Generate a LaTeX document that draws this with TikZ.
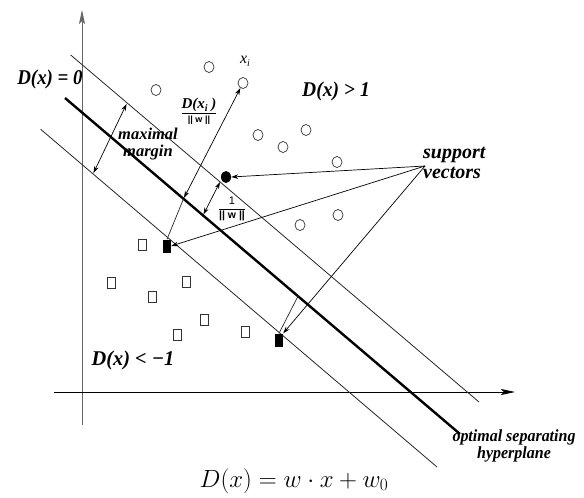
\documentclass[tikz,border=0pt]{standalone}
\usepackage[no-math]{fontspec}
\setmainfont{Liberation Serif}
\setsansfont{Liberation Sans}
\usetikzlibrary{arrows.meta,shapes.geometric}
\begin{document}
\begin{tikzpicture}[x=1pt,y=-1pt,
  thinline/.style={line width=0.8pt, draw=black!85},
  hyper/.style={line width=2.4pt},
  axisarr/.style={-{Stealth[length=14pt,width=6pt,inset=3pt]}},
  arr/.style={-{Stealth[length=7pt,width=4.5pt]}, line width=0.7pt},
  darr/.style={{Stealth[length=7pt,width=4.5pt]}-{Stealth[length=7pt,width=4.5pt]}, line width=0.7pt},
  opendot/.style={ellipse, draw=black!80, line width=0.7pt, minimum width=10pt, minimum height=11pt, inner sep=0pt},
  filldot/.style={ellipse, fill=black, minimum width=10pt, minimum height=12pt, inner sep=0pt},
  opensq/.style={rectangle, draw=black!80, line width=0.7pt, minimum width=8pt, minimum height=11pt, inner sep=0pt},
  fillsq/.style={rectangle, fill=black, minimum width=8pt, minimum height=13pt, inner sep=0pt},
  biglabel/.style={font=\fontsize{21}{21}\selectfont\bfseries\itshape, inner sep=0pt},
  midlabel/.style={font=\fontsize{16.5}{16.5}\selectfont\bfseries\itshape, inner sep=0pt, align=center},
]
\useasboundingbox (0,0) rectangle (584,498);

% axes
\coordinate (vb) at (82,425);
\coordinate (vt) at (82,10);
\coordinate (hl) at (54,392);
\coordinate (hr) at (515,392);
\draw[axisarr, line width=0.9pt, draw=black!60] (vb) -- (vt);
\draw[axisarr, line width=0.9pt] (hl) -- (hr);

% margin lines and hyperplane
\coordinate (U1) at (70.7,55);
\coordinate (U2) at (479,402);
\coordinate (H1) at (65,98);
\coordinate (H2) at (460,434);
\coordinate (L1) at (40.7,129.3);
\coordinate (L2) at (437,467);
\draw[thinline] (U1) -- (U2);
\draw[thinline] (L1) -- (L2);
\draw[hyper] (H1) -- (H2);

% open circles
\node[opendot] (c1) at (209,67) {};
\node[opendot] (ci) at (243,83) {};
\node[opendot] (c3) at (156,90) {};
\node[opendot] (c4) at (258,135) {};
\node[opendot] (c5) at (283,147) {};
\node[opendot] (c6) at (306,130) {};
\node[opendot] (c7) at (337,162) {};
\node[opendot] (c8) at (338,215) {};
\node[opendot] (c9) at (300,225) {};
\node[filldot] (fc) at (226,177) {};

% open squares
\node[opensq] (s1) at (142,245) {};
\node[opensq] (s2) at (111,283) {};
\node[opensq] (s3) at (152,297) {};
\node[opensq] (s4) at (186,282) {};
\node[opensq] (s5) at (204,320) {};
\node[opensq] (s6) at (177,335) {};
\node[opensq] (s7) at (245,332) {};
\node[fillsq] (sqA) at (167,246) {};
\node[fillsq] (sqB) at (279,340) {};

% points on lines
\coordinate (h1) at (183.5,198.8);
\coordinate (h2) at (298,296.2);
\coordinate (m1) at (203,215.4);
\coordinate (m2) at (220,182);
\coordinate (mm1) at (93,174);
\coordinate (mm2) at (127,103);
\coordinate (sv) at (425,166);

% connectors
\draw[darr, shorten <=1pt, shorten >=1pt] (mm1) -- (mm2);
\draw[darr, shorten <=1pt] (h1) -- (ci);
\draw[thinline, line width=0.7pt] (sqA.north) -- (h1);
\draw[thinline, line width=0.7pt] (sqB.north) -- (h2);
\draw[darr, shorten <=1pt] (m1) -- (m2);
\draw[arr] (sv) -- (fc.east);
\draw[arr] (sv) -- (sqA.east);
\draw[arr] (sv) -- (sqB.north east);

% labels
\node[biglabel] (d0) at (50,79) {\scalebox{0.9}[1]{D(x) = 0}};
\node[biglabel] (d1) at (336,91) {\scalebox{0.93}[1]{D(x) > 1}};
\node[biglabel] (dm1) at (133,360) {\scalebox{0.97}[1]{D(x) < −1}};
\node[midlabel] (mm) at (148,144) {maximal\\margin};
\node[midlabel, font=\fontsize{20}{20}\selectfont\bfseries\itshape, anchor=west, align=left] (svl) at (423,163) {support\\vectors};
\node[midlabel, font=\fontsize{17}{16.5}\selectfont\bfseries\itshape] (osh) at (514,446) {\scalebox{0.94}[1]{optimal separating}\\\scalebox{0.94}[1]{hyperplane}};
\node[font=\fontsize{16}{16}\selectfont\itshape, inner sep=0pt] (xi) at (245,61) {x\raisebox{-3pt}{\fontsize{10}{10}\selectfont i}};
\node[inner sep=0pt] (f1) at (199,111) {$\displaystyle\frac{\hbox{\fontsize{15}{15}\selectfont\bfseries\itshape D(x\raisebox{-3pt}{\fontsize{10}{10}\selectfont i} )}}{\hbox{\fontsize{9}{9}\selectfont\sffamily\bfseries || w ||}}$};
\node[inner sep=0pt] (f2) at (232,209) {$\displaystyle\frac{\hbox{\fontsize{11}{11}\selectfont\sffamily 1}}{\hbox{\fontsize{10.5}{10.5}\selectfont\sffamily\bfseries || w ||}}$};
\node[font=\fontsize{23}{23}\selectfont, inner sep=0pt] (eq) at (294,481) {$D(x) = w\cdot x + w_0$};
\end{tikzpicture}
\end{document}
